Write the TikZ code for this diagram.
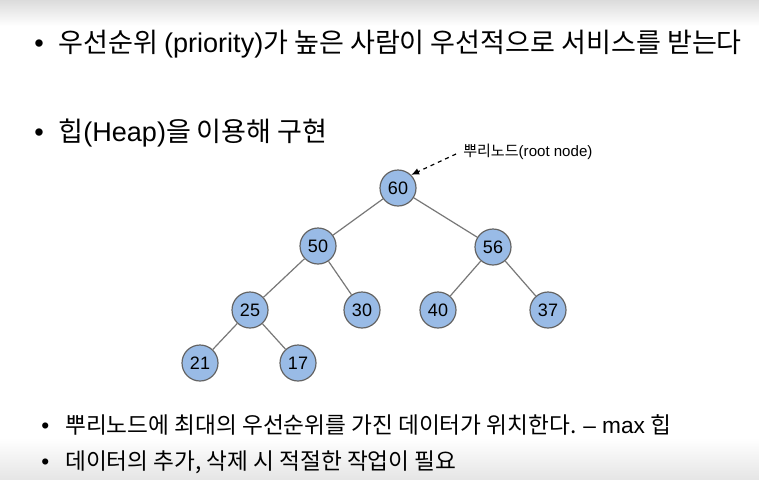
\documentclass[tikz,border=0pt]{standalone}
\usepackage{fontspec}
\setmainfont{Liberation Sans}
\newfontfamily\kor{Noto Sans CJK KR}
\usetikzlibrary{arrows.meta}

\newlength{\du}
\setlength{\du}{0.75pt}

\definecolor{heapfill}{RGB}{153,187,230}
\definecolor{heapline}{RGB}{100,100,100}
\definecolor{edgeline}{RGB}{120,120,120}

\tikzset{
  heapnode/.style={circle, draw=heapline, fill=heapfill, line width=1.2\du,
    minimum size=36\du, inner sep=0pt, font=\fontsize{13.5}{15}\selectfont},
  heapedge/.style={draw=edgeline, line width=1.2\du},
  bullettext/.style={anchor=west, inner sep=0pt},
}

\begin{document}
\begin{tikzpicture}
\pgftransformyscale{-1.000000}
\useasboundingbox (0\du,0\du) rectangle (759\du,479\du);
% background bands
\fill[white] (0\du,0\du) rectangle (759\du,479\du);
\shade[top color=black!14, bottom color=white] (0\du,0\du) rectangle (759\du,26\du);
\shade[top color=white, bottom color=black!10] (0\du,438\du) rectangle (759\du,479\du);
% bullets on top
\node[bullettext, font=\fontsize{20.3}{24}\selectfont] (top1) at (34\du,44\du)
  {\textbullet\hspace{11pt}\kor 우선순위 {\rmfamily(priority)}가 높은 사람이 우선적으로 서비스를 받는다};
\node[bullettext, font=\fontsize{20.3}{24}\selectfont] (top2) at (34\du,133\du)
  {\textbullet\hspace{11pt}\kor 힙{\rmfamily(Heap)}을 이용해 구현};
% heap
\node[heapnode] (n60) at (398\du,188\du) {60};
\node[heapnode] (n50) at (318\du,246\du) {50};
\node[heapnode] (n56) at (493\du,247\du) {56};
\node[heapnode] (n25) at (250\du,310\du) {25};
\node[heapnode] (n30) at (362\du,310\du) {30};
\node[heapnode] (n40) at (438\du,310\du) {40};
\node[heapnode] (n37) at (548\du,310\du) {37};
\node[heapnode] (n21) at (200\du,363\du) {21};
\node[heapnode] (n17) at (298\du,363\du) {17};
\foreach \a/\b in {n60/n50, n60/n56, n50/n25, n50/n30, n56/n40, n56/n37, n25/n21, n25/n17}
  \draw[heapedge] (\a) -- (\b);
% root label
\node[anchor=west, inner sep=0pt, font=\fontsize{11.3}{13}\selectfont] (rootlbl) at (463\du,152\du)
  {\kor 뿌리노드{\rmfamily(root node)}};
\draw[dashed, line width=1.2\du, -{Latex[length=6pt,width=5pt]}] (rootlbl.west) ++(-7\du,2\du) -- (n60.north east);
% bullets below
\node[bullettext, font=\fontsize{17}{20}\selectfont] (bot1) at (41\du,425\du)
  {\textbullet\hspace{12pt}\kor 뿌리노드에 최대의 우선순위를 가진 데이터가 위치한다. {\rmfamily– max} 힙};
\node[bullettext, font=\fontsize{17}{20}\selectfont] (bot2) at (41\du,462\du)
  {\textbullet\hspace{12pt}\kor 데이터의 추가, 삭제 시 적절한 작업이 필요};
\end{tikzpicture}
\end{document}
